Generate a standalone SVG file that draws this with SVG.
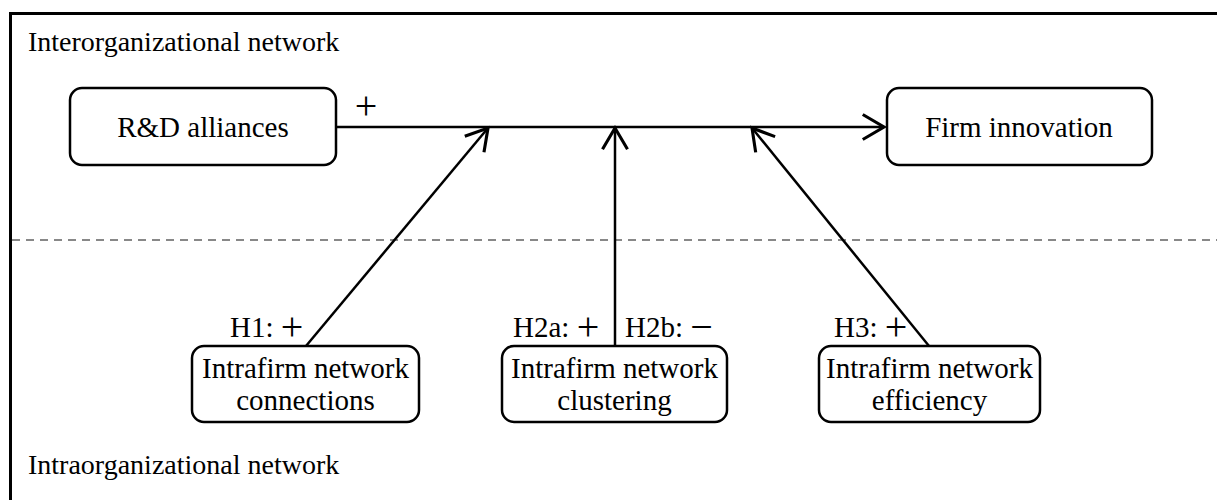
<svg xmlns="http://www.w3.org/2000/svg" width="1217" height="500" viewBox="0 0 1217 500">
<style>
.t{font-family:"Liberation Serif","Times New Roman",serif;font-size:29px;fill:#000}
.r{font-size:28px}
.c{text-anchor:middle}
.s{font-size:40px}
.box{fill:#fff;stroke:#000;stroke-width:2.5}
.ln{stroke:#000;stroke-width:2.5;fill:none}
</style>
<defs>
<marker id="ah" markerUnits="userSpaceOnUse" markerWidth="30" markerHeight="30" viewBox="-20 -12 22 24" refX="0" refY="0" orient="auto">
<path d="M-17,-10 L0,0 L-17,10" fill="none" stroke="#000" stroke-width="2.5"/>
</marker>
</defs>
<rect width="1217" height="500" fill="#fff"/>
<path d="M10.5,512 L10.5,13.5 L1230,13.5" fill="none" stroke="#000" stroke-width="3"/>
<line x1="12" y1="240" x2="1217" y2="240" stroke="#888" stroke-width="2" stroke-dasharray="8,6"/>
<text class="t r" x="28" y="51">Interorganizational network</text>
<text class="t r" x="28" y="474">Intraorganizational network</text>
<g id="connectors">
<line class="ln" x1="336" y1="127" x2="884" y2="127" marker-end="url(#ah)"/>
<line class="ln" x1="306" y1="346" x2="488" y2="128" marker-end="url(#ah)"/>
<line class="ln" x1="615" y1="346" x2="615" y2="128" marker-end="url(#ah)"/>
<line class="ln" x1="929" y1="346" x2="752" y2="128" marker-end="url(#ah)"/>
<text class="t c s" x="366" y="119">+</text>
<text class="t" x="230" y="337">H1: <tspan class="s" dy="3">+</tspan></text>
<text class="t" x="513" y="337">H2a: <tspan class="s" dy="3">+</tspan></text>
<text class="t" x="625" y="337">H2b: <tspan class="s" dy="3">−</tspan></text>
<text class="t" x="834" y="337">H3: <tspan class="s" dy="3">+</tspan></text>
</g>
<g id="rd">
<rect class="box" x="70" y="88" width="266" height="77" rx="12"/>
<text class="t c" x="203" y="137">R&amp;D alliances</text>
</g>
<g id="fi">
<rect class="box" x="887" y="88" width="265" height="77" rx="12"/>
<text class="t c" x="1019" y="137">Firm innovation</text>
</g>
<g id="conn">
<rect class="box" x="192" y="346" width="227" height="76" rx="12"/>
<text class="t c" x="305.5" y="378">Intrafirm network</text>
<text class="t c" x="305.5" y="410">connections</text>
</g>
<g id="clus">
<rect class="box" x="502" y="346" width="225" height="76" rx="12"/>
<text class="t c" x="614.5" y="378">Intrafirm network</text>
<text class="t c" x="614.5" y="410">clustering</text>
</g>
<g id="eff">
<rect class="box" x="819" y="346" width="221" height="76" rx="12"/>
<text class="t c" x="929.5" y="378">Intrafirm network</text>
<text class="t c" x="929.5" y="410">efficiency</text>
</g>
</svg>
